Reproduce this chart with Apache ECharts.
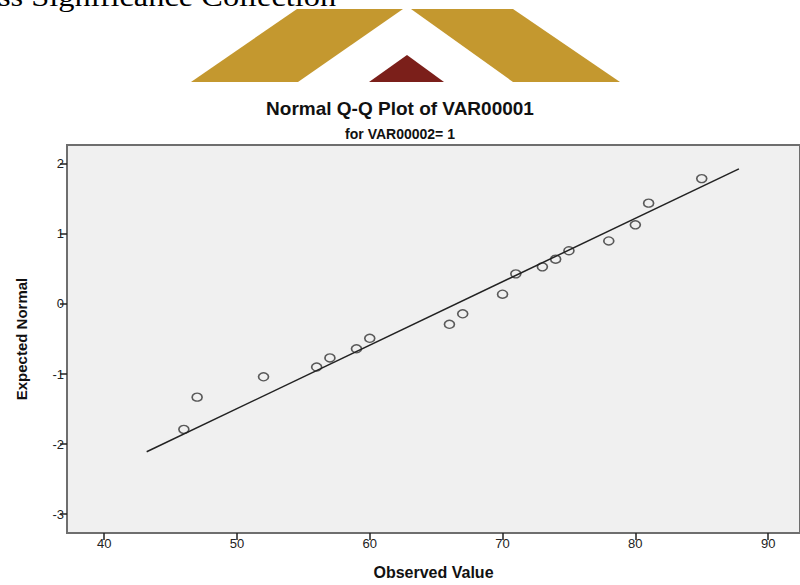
<!DOCTYPE html>
<html>
<head>
<meta charset="utf-8">
<script src="https://cdn.jsdelivr.net/npm/echarts@6/dist/echarts.min.js"></script>
<style>
html,body{margin:0;padding:0;background:#fff;}
#chart{width:800px;height:585px;}
</style>
</head>
<body>
<div id="chart"></div>
<script>
// Observed values and expected normal quantiles
const observedValues = [46, 47, 52, 56, 57, 59, 60, 66, 67, 70, 71, 73, 74, 75, 78, 80, 81, 85];
const expectedNormal = [-1.79, -1.33, -1.04, -0.90, -0.77, -0.64, -0.49, -0.29, -0.14, 0.14, 0.43, 0.53, 0.64, 0.76, 0.90, 1.13, 1.44, 1.79];
// Reference line end points
const refLineX = [43.2, 87.8];
const refLineY = [-2.11, 1.93];
// Tick labels
const xTicks = [40, 50, 60, 70, 80, 90];
const yTicks = [-3, -2, -1, 0, 1, 2];

const points = observedValues.map((v, i) => [v, expectedNormal[i]]);
const refLine = refLineX.map((v, i) => [v, refLineY[i]]);

const chart = echarts.init(document.getElementById('chart'), null, {renderer: 'svg'});
const font = 'Liberation Sans, Arial, sans-serif';
chart.setOption({
  animation: false,
  backgroundColor: '#ffffff',
  title: [
    {text: 'Normal Q-Q Plot of VAR00001', left: 'center', top: 94,
     textStyle: {fontFamily: font, fontSize: 19, fontWeight: 'bold', color: '#111'}},
    {text: 'for VAR00002= 1', left: 'center', top: 122,
     textStyle: {fontFamily: font, fontSize: 14, fontWeight: 'bold', color: '#111'}}
  ],
  graphic: [
    {type: 'text', left: -2, top: -17, style: {text: 'ss Significance Collection', font: '27px "Liberation Serif", "Times New Roman", serif', fill: '#000'}, scaleX: 1.2},
    {type: 'polygon', shape: {points: [[297, 9], [403, 9], [298, 82], [191, 82]]}, style: {fill: '#C4982F'}},
    {type: 'polygon', shape: {points: [[411, 9], [513, 9], [620, 82], [513, 82]]}, style: {fill: '#C4982F'}},
    {type: 'polygon', shape: {points: [[407, 55], [444, 82], [369, 82]]}, style: {fill: '#7B1F1A'}}
  ],
  grid: {
    left: 67, top: 145, width: 738, height: 388,
    show: true, backgroundColor: '#f0f0f0', borderColor: '#6e6e6e', borderWidth: 2
  },
  xAxis: {
    type: 'value', min: 37.2, max: 92.4,
    name: 'Observed Value', nameLocation: 'middle', nameGap: 31,
    nameTextStyle: {fontFamily: font, fontSize: 16, fontWeight: 'bold', color: '#111'},
    axisLine: {show: true, onZero: false, lineStyle: {color: '#6e6e6e', width: 2}},
    axisTick: {show: true, inside: false, customValues: xTicks, length: 7, lineStyle: {color: '#222', width: 1.5}},
    axisLabel: {customValues: xTicks, fontFamily: font, fontSize: 13, color: '#222', margin: 4},
    splitLine: {show: false}
  },
  yAxis: {
    type: 'value', min: -3.27, max: 2.27,
    name: 'Expected Normal', nameLocation: 'middle', nameGap: 38, nameRotate: 90,
    nameTextStyle: {fontFamily: font, fontSize: 15, fontWeight: 'bold', color: '#111'},
    axisLine: {show: true, onZero: false, lineStyle: {color: '#6e6e6e', width: 2}},
    axisTick: {show: true, inside: false, customValues: yTicks, length: 7, lineStyle: {color: '#222', width: 1.5}},
    axisLabel: {customValues: yTicks, fontFamily: font, fontSize: 13, color: '#222', margin: 3},
    splitLine: {show: false}
  },
  series: [
    {type: 'line', data: refLine, symbol: 'none', lineStyle: {color: '#222', width: 1.5}, silent: true},
    {type: 'scatter', data: points, symbol: 'circle', symbolSize: [10, 8],
     itemStyle: {color: 'transparent', borderColor: '#333', borderWidth: 1.5}}
  ]
});
</script>
</body>
</html>
